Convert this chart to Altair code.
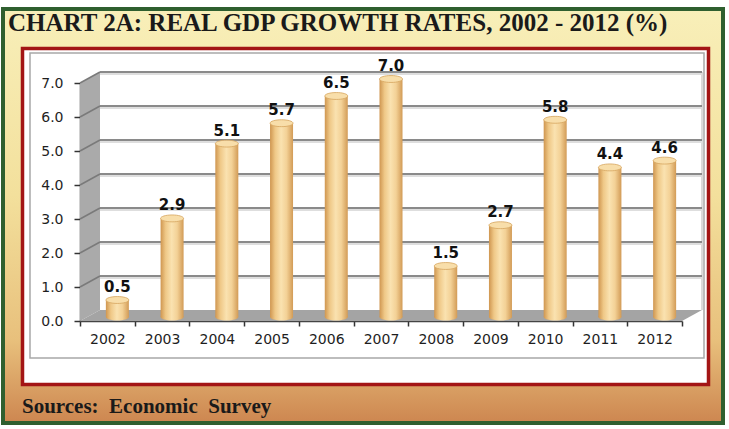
import altair as alt
import pandas as pd

# Real GDP growth rates (%)
years = ["2002", "2003", "2004", "2005", "2006", "2007", "2008", "2009", "2010", "2011", "2012"]
growth = [0.5, 2.9, 5.1, 5.7, 6.5, 7.0, 1.5, 2.7, 5.8, 4.4, 4.6]
y_ticks = [0, 1, 2, 3, 4, 5, 6, 7]

# Layout of the plotting box (pixels)
LEFT, TOP = 80, 83
W, H = 602, 238
DX, DY = 20, 11          # depth of the 3-D box
BAR_DX, BAR_DY = 10, -4  # bars stand half-way into the box
BAR_W = 23
Y_MAX = 7

df = pd.DataFrame({"year": years, "growth": growth})
levels = pd.DataFrame({"level": y_ticks[1:]})
one = pd.DataFrame({"d": [0]})

y_scale = alt.Scale(domain=[0, Y_MAX], nice=False, zero=True)
x_scale = alt.Scale(paddingInner=0, paddingOuter=0)


def polygon_path(rings, r):
    """SVG path for a symbol; each ring is a list of pixel points around the symbol centre."""
    parts = []
    for ring in rings:
        pts = [f"{px / r:.4f},{py / r:.4f}" for px, py in ring]
        parts.append("M" + " L".join(pts) + " Z")
    return " ".join(parts)


# ---- frame decorations -------------------------------------------------
# outer panel: gradient band between the green frame and the red box
OUT = (3, 9, 723, 423)          # left, top, right, bottom on the page
RED = (22.5, 48.5, 708.5, 384.5)
cx, cy = (OUT[0] + OUT[2]) / 2, (OUT[1] + OUT[3]) / 2
band_r = (OUT[2] - OUT[0]) / 2
band_path = polygon_path(
    [
        [(OUT[0] - cx, OUT[1] - cy), (OUT[2] - cx, OUT[1] - cy),
         (OUT[2] - cx, OUT[3] - cy), (OUT[0] - cx, OUT[3] - cy)],
        [(RED[0] - cx, RED[1] - cy), (RED[0] - cx, RED[3] - cy),
         (RED[2] - cx, RED[3] - cy), (RED[2] - cx, RED[1] - cy)],
    ],
    band_r,
)
backdrop = alt.Chart(one).mark_point(
    shape=band_path, size=(2 * band_r) ** 2, filled=True, opacity=1, strokeWidth=0,
    fill=alt.Gradient(
        gradient="linear", x1=0, x2=0, y1=0, y2=1,
        stops=[
            alt.GradientStop(color="#f8efb9", offset=0),
            alt.GradientStop(color="#f3e09c", offset=0.45),
            alt.GradientStop(color="#e8c07c", offset=0.8),
            alt.GradientStop(color="#cd8650", offset=1),
        ],
    ),
).encode(x=alt.value(cx - LEFT), y=alt.value(cy - TOP))

green_frame = alt.Chart(one).mark_rect(
    x=OUT[0] - LEFT, x2=OUT[2] - LEFT, y=OUT[1] - TOP, y2=OUT[3] - TOP,
    fillOpacity=0, stroke="#2f5f2f", strokeWidth=4,
)

red_box = alt.Chart(one).mark_rect(
    x=RED[0] - LEFT, x2=RED[2] - LEFT, y=RED[1] - TOP, y2=RED[3] - TOP,
    fillOpacity=0, stroke="#a31515", strokeWidth=3.5,
)

grey_box = alt.Chart(one).mark_rect(
    x=30 - LEFT, x2=704 - LEFT, y=53 - TOP, y2=358 - TOP,
    fillOpacity=0, stroke="#a8a8a8", strokeWidth=1.5,
)

# ---- 3-D box: left wall, floor, back wall ------------------------------
wall_r = H / 2
wall_path = polygon_path(
    [[(-DX / 2, H / 2 + DY / 2), (-DX / 2, -H / 2 + DY / 2),
      (DX / 2, -H / 2 - DY / 2), (DX / 2, H / 2 - DY / 2)]],
    wall_r,
)
left_wall = alt.Chart(one).mark_point(
    shape=wall_path, size=(2 * wall_r) ** 2, filled=True, opacity=1,
    fill="#aaaaaa", strokeWidth=0, yOffset=-DY / 2,
).encode(
    x=alt.value(DX / 2),
    y=alt.datum(Y_MAX / 2, scale=y_scale),
)

floor_r = (W + DX) / 2
floor_path = polygon_path(
    [[(-(W + DX) / 2, DY / 2), ((W - DX) / 2, DY / 2),
      ((W + DX) / 2, -DY / 2), (-(W - DX) / 2, -DY / 2)]],
    floor_r,
)
floor = alt.Chart(one).mark_point(
    shape=floor_path, size=(2 * floor_r) ** 2, filled=True, opacity=1,
    fill="#a4a4a4", strokeWidth=0, yOffset=-DY / 2,
).encode(
    x=alt.value((W + DX) / 2),
    y=alt.datum(0, scale=y_scale),
)

back_edge = alt.Chart(one).mark_rule(
    color="#cfcfcf", strokeWidth=1.5, yOffset=-DY, y2Offset=-DY
).encode(
    x=alt.value(W + DX),
    y=alt.datum(0, scale=y_scale),
    y2=alt.datum(Y_MAX),
)

grid_shadow = alt.Chart(levels).mark_rule(
    color="#dedede", strokeWidth=2, yOffset=-DY + 2, y2Offset=-DY + 2
).encode(
    x=alt.value(DX), x2=alt.value(W + DX),
    y=alt.Y("level:Q", scale=y_scale),
)

grid = alt.Chart(levels).mark_rule(
    color="#8a8a8a", strokeWidth=2, yOffset=-DY, y2Offset=-DY
).encode(
    x=alt.value(DX), x2=alt.value(W + DX),
    y=alt.Y("level:Q", scale=y_scale),
)

wall_lines = alt.Chart(levels).mark_rule(
    color="#7a7a7a", strokeWidth=1.5, y2Offset=-DY
).encode(
    x=alt.value(0), x2=alt.value(DX),
    y=alt.Y("level:Q", scale=y_scale),
    y2="level:Q",
)

# ---- cylinders -------------------------------------------------------------
ELLIPSE = ("M-1,0 C-1,-0.166 -0.552,-0.3 0,-0.3 C0.552,-0.3 1,-0.166 1,0 "
           "C1,0.166 0.552,0.3 0,0.3 C-0.552,0.3 -1,0.166 -1,0 Z")
cyl_fill = alt.Gradient(
    gradient="linear", x1=0, x2=1, y1=0, y2=0,
    stops=[
        alt.GradientStop(color="#cf9650", offset=0),
        alt.GradientStop(color="#efc887", offset=0.22),
        alt.GradientStop(color="#fae2b0", offset=0.48),
        alt.GradientStop(color="#f3d196", offset=0.72),
        alt.GradientStop(color="#d29b56", offset=1),
    ],
)

base = alt.Chart(df)
x_enc = alt.X("year:N", scale=x_scale, sort=years)

bottoms = base.mark_point(
    shape=ELLIPSE, size=BAR_W ** 2, filled=True, fill=cyl_fill, opacity=1,
    xOffset=BAR_DX, yOffset=BAR_DY,
).encode(
    x=x_enc,
    y=alt.datum(0, scale=y_scale),
)

bars = base.mark_bar(
    width=BAR_W, fill=cyl_fill,
    xOffset=BAR_DX, x2Offset=BAR_DX, yOffset=BAR_DY, y2Offset=BAR_DY,
).encode(
    x=x_enc,
    y=alt.Y("growth:Q", scale=y_scale),
)

tops = base.mark_point(
    shape=ELLIPSE, size=BAR_W ** 2, filled=True, fill="#f8deaa",
    stroke="#d6a45e", strokeWidth=0.8, opacity=1,
    xOffset=BAR_DX, yOffset=BAR_DY,
).encode(
    x=x_enc,
    y=alt.Y("growth:Q", scale=y_scale),
)

values = base.mark_text(
    font="DejaVu Sans", fontSize=15, fontWeight="bold", color="#111",
    baseline="alphabetic", xOffset=BAR_DX, yOffset=BAR_DY - 8,
).encode(
    x=x_enc,
    y=alt.Y("growth:Q", scale=y_scale),
    text=alt.Text("growth:Q", format=".1f"),
)

# ---- headings --------------------------------------------------------------
title = alt.Chart(one).mark_text(
    text="CHART 2A: REAL GDP GROWTH RATES, 2002 - 2012 (%)",
    x=8 - LEFT, y=31 - TOP, align="left", baseline="alphabetic",
    font="Liberation Serif", fontSize=25, fontWeight="bold", color="#1a1a1a",
)

source = alt.Chart(one).mark_text(
    text="Sources:\u00a0\u00a0Economic\u00a0\u00a0Survey",
    x=22 - LEFT, y=413 - TOP, align="left", baseline="alphabetic",
    font="Liberation Serif", fontSize=21, fontWeight="bold", color="#1a1a1a",
)

chart = alt.layer(
    backdrop, green_frame, red_box, grey_box, left_wall, floor, back_edge,
    grid_shadow, grid, wall_lines, bottoms, bars, tops, values, title, source,
).properties(
    width=W, height=H,
    autosize=alt.AutoSizeParams(type="none"),
    padding={"left": LEFT, "top": TOP, "right": 729 - LEFT - W, "bottom": 429 - TOP - H},
    background="white",
).configure_axisX(
    labelAngle=0, labelFont="DejaVu Sans", labelFontSize=14,
    labelColor="#1e1e1e", labelPadding=6, tickSize=5,
    tickBand="extent", tickColor="#333", tickWidth=1.5,
    domainColor="#444", domainWidth=1.5, zindex=1, title=None, grid=False,
).configure_axisY(
    labelFont="DejaVu Sans", labelFontSize=14, labelColor="#1e1e1e",
    labelPadding=11, tickSize=6, tickColor="#333", tickWidth=1.5,
    domainColor="#444", domainWidth=1.5, grid=False, zindex=1,
    format=".1f", values=y_ticks, title=None,
).configure_view(stroke=None)

chart.save("out.html", embed_options={"renderer": "svg", "actions": False})
